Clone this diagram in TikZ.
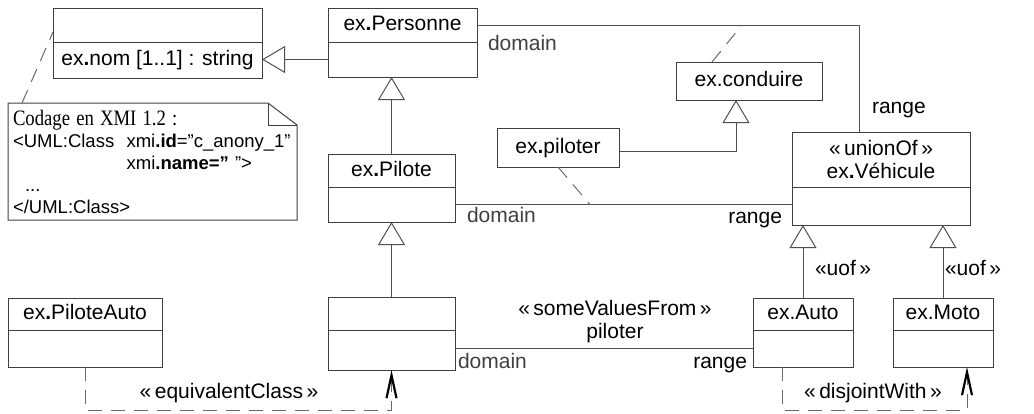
\documentclass[tikz,border=0pt]{standalone}
\usepackage{fontspec}
\setmainfont{Liberation Sans}
\newfontfamily\notefont{Liberation Serif}[FakeStretch=0.85]
\usepackage{tikz}
\usetikzlibrary{arrows.meta, positioning}
\definecolor{mygris}  {RGB}{64, 64, 64}
\definecolor{myligne} {RGB}{80, 80, 80}
\definecolor{mytiret} {RGB}{105, 105, 105}
\newcommand{\bdot}{\textbf{.}}

\begin{document}
\begin{tikzpicture}[x=1pt, y=-1pt,
		every node/.style={font=\fontsize{21}{23}\selectfont, inner sep=0pt, outer sep=0pt},
		boite/.style={draw=mygris, line width=1pt, text height=15pt, text depth=4pt},
		gen/.style={draw=myligne, line width=1pt, -{Triangle[open, length=23pt, width=27pt, fill=white]}},
		assoc/.style={draw=myligne, line width=1pt},
		tiret/.style={draw=mytiret, line width=1pt, dash pattern=on 14pt off 9pt},
		dep/.style={tiret, -{Straight Barb[length=23pt, width=10pt, line width=2.2pt, color=black]}},
		role/.style={text=mygris}]
		\useasboundingbox (0,0) rectangle (1034,413);
		% classes
		\node[boite, anchor=north west, minimum width=209pt, minimum height=34pt] (anonA) at (53,8) {};
		\node[boite, below=0pt of anonA, minimum width=209pt, minimum height=36pt] (anonAc) {ex\bdot nom [1..1] : string};
		\node[boite, anchor=north west, minimum width=149pt, minimum height=34pt] (persA) at (328,8) {ex\bdot Personne};
		\node[boite, below=0pt of persA, minimum width=149pt, minimum height=35pt] (persC) {};
		\node[boite, anchor=north west, minimum width=127pt, minimum height=33pt] (pilA) at (328,154) {ex\bdot Pilote};
		\node[boite, below=0pt of pilA, minimum width=127pt, minimum height=35pt] (pilC) {};
		\node[boite, anchor=north west, minimum width=127pt, minimum height=33pt] (anonB) at (328,297) {};
		\node[boite, below=0pt of anonB, minimum width=127pt, minimum height=40pt] (anonBc) {};
		\node[boite, anchor=north west, minimum width=154pt, minimum height=32pt] (pa) at (8,298) {ex\bdot PiloteAuto};
		\node[boite, below=0pt of pa, minimum width=154pt, minimum height=37pt] (pac) {};
		\node[draw=mygris, line width=1pt, align=center, anchor=north west, minimum width=178pt, minimum height=55pt] (vehA) at (792,132) {«\,unionOf\,»\\ex\bdot Véhicule};
		\node[boite, below=0pt of vehA, minimum width=178pt, minimum height=38pt] (vehC) {};
		\node[boite, anchor=north west, minimum width=100pt, minimum height=32pt] (auto) at (753,298) {ex.Auto};
		\node[boite, below=0pt of auto, minimum width=100pt, minimum height=37pt] (autoc) {};
		\node[boite, anchor=north west, minimum width=100pt, minimum height=32pt] (moto) at (893,298) {ex.Moto};
		\node[boite, below=0pt of moto, minimum width=100pt, minimum height=37pt] (motoc) {};
		% proprietes
		\node[boite, anchor=north west, minimum width=146pt, minimum height=38pt] (cond) at (676,62) {ex.conduire};
		\node[boite, anchor=north west, minimum width=122pt, minimum height=39pt] (plt) at (497,128) {ex\bdot piloter};
		% note
		\node[anchor=north west, align=left, minimum width=289pt, minimum height=117pt, text width=279pt, inner xsep=5pt,
			font=\fontsize{18.5}{22}\selectfont] (note) at (8,103) {%
			{\notefont\fontsize{22}{22}\selectfont Codage en XMI 1.2 :}\\
			<UML:Class\ \ xmi\textbf{.id}="c\_anony\_1"\\
			\phantom{<UML:Class\ \ }xmi\textbf{.name="}~">\\
			\hspace*{12pt}...\\
			</UML:Class>};
		\draw[mygris, line width=1pt] (note.north west) -- ([xshift=-29pt]note.north east) -- ([yshift=-22pt]note.north east)
			-- (note.south east) -- (note.south west) -- cycle;
		\draw[mygris, line width=1pt] ([xshift=-29pt]note.north east) |- ([yshift=-22pt]note.north east);
		\draw[tiret] ([xshift=14pt]note.north west) -- ([yshift=-7pt]anonA.west);
		% liens
		\draw[gen] (persC.west) -- (persC.west -| anonAc.east);
		\draw[assoc] (persA.east) -| ([xshift=-22pt]vehA.north);
		\coordinate (c1) at ([xshift=-7pt]cond.north |- persA.east);
		\draw[tiret] ([xshift=36pt]cond.north west) -- (c1);
		\draw[gen] ([yshift=-4pt]plt.east) -| ([xshift=-13pt]cond.south);
		\draw[gen] (pilA.north) -- (pilA.north |- persC.south);
		\draw[assoc] (pilC.east) -- (pilC.east -| vehC.west);
		\coordinate (c2) at ([xshift=32pt]plt.south |- pilC.east);
		\draw[tiret] (plt.south) -- (c2);
		\draw[gen] (anonB.north) -- (anonB.north |- pilC.south);
		\draw[gen] (auto.north) -- (auto.north |- vehC.south);
		\draw[gen] (moto.north) -- (moto.north |- vehC.south);
		\draw[assoc] (autoc.west -| anonBc.east) -- (autoc.west);
		\draw[dep] (pac.south) -- ++(0,43) -| (anonBc.south);
		\draw[dep] ([xshift=-21pt]autoc.south) -- ++(0,43) -| ([xshift=24pt]motoc.south);
		% roles
		\node[role, anchor=base west] at (488,50) {domain};
		\node[anchor=base west] at (872,113) {range};
		\node[role, anchor=base west] at (467,222) {domain};
		\node[anchor=base east] at (782,223) {range};
		\node[role, anchor=base west] at (458,368) {domain};
		\node[anchor=base east] at (747,368) {range};
		\node[align=center] at (615,322) {«\,someValuesFrom\,»\\piloter};
		\node[anchor=base west] at (815,275) {«uof\,»};
		\node[anchor=base west] at (945,275) {«uof\,»};
		\node[anchor=base] at (229,398) {«\,equivalentClass\,»};
		\node[anchor=base] at (873,398) {«\,disjointWith\,»};
	\end{tikzpicture}
\end{document}
